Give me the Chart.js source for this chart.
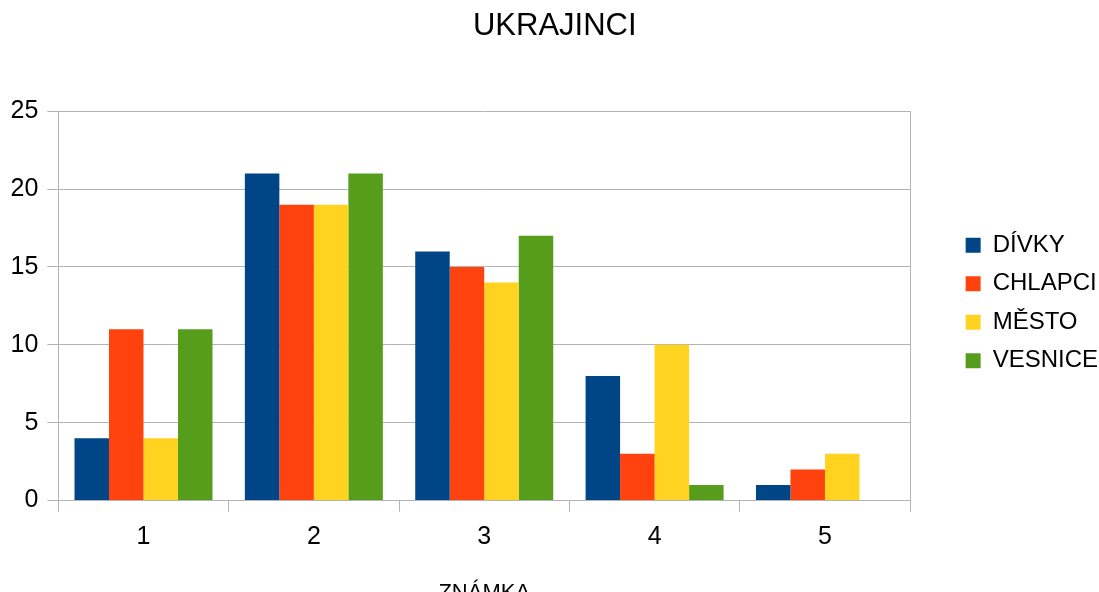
<!DOCTYPE html>
<html><head><meta charset="utf-8">
<script src="https://cdn.jsdelivr.net/npm/chart.js@4"></script>
<style>html,body{margin:0;padding:0;background:#fff}#wrap{width:1099px;height:592px}</style>
</head><body><div id="wrap"><canvas id="c" width="1099" height="592"></canvas></div>
<script>
const categories = ['1', '2', '3', '4', '5'];
const divky = [4, 21, 16, 8, 1];
const chlapci = [11, 19, 15, 3, 2];
const mesto = [4, 19, 14, 10, 3];
const vesnice = [11, 21, 17, 1, 0];
const seriesNames = ['DÍVKY', 'CHLAPCI', 'MĚSTO', 'VESNICE'];
const yMin = 0, yMax = 25, yStep = 5;

Chart.defaults.font.family = "'Liberation Sans', Arial, sans-serif";
Chart.defaults.color = '#000';
const gridColor = '#b3b3b3';
const colors = ['#004586', '#ff420e', '#ffd320', '#579d1c'];
const values = [divky, chlapci, mesto, vesnice];

new Chart(document.getElementById('c'), {
  type: 'bar',
  data: {
    labels: categories,
    datasets: seriesNames.map((n, i) => ({
      label: n, data: values[i], backgroundColor: colors[i], borderWidth: 0,
      categoryPercentage: 0.81, barPercentage: 1.0
    }))
  },
  options: {
    responsive: false, animation: false, devicePixelRatio: 1,
    layout: { padding: { left: 1.5, right: -9, top: 0, bottom: -14 } },
    plugins: {
      title: { display: true, text: 'UKRAJINCI', font: { size: 31, weight: 'normal' }, color: '#000',
               padding: { top: 8, bottom: 66 } },
      legend: { position: 'right',
        labels: { boxWidth: 15, boxHeight: 15, padding: 14.5, font: { size: 24 }, color: '#000' } },
      tooltip: { enabled: false }
    },
    scales: {
      x: {
        offset: true,
        grid: { display: true, drawOnChartArea: false, drawTicks: true, tickLength: 11, color: gridColor, offset: true },
        border: { display: true, color: gridColor },
        ticks: { font: { size: 25 }, padding: 10.5, color: '#000' },
        title: { display: true, text: 'ZNÁMKA', font: { size: 22 }, color: '#000', padding: { top: 17, bottom: 0 } }
      },
      y: {
        min: yMin, max: yMax,
        ticks: { stepSize: yStep, font: { size: 25 }, padding: 9, color: '#000' },
        grid: { color: gridColor, tickLength: 11 },
        border: { display: true, color: gridColor }
      },
      y2: {
        position: 'right', min: yMin, max: yMax,
        ticks: { display: false },
        grid: { drawOnChartArea: false, drawTicks: false },
        border: { display: true, color: gridColor },
        afterFit: (s) => { s.width = 41; }
      }
    }
  }
});
</script></body></html>
